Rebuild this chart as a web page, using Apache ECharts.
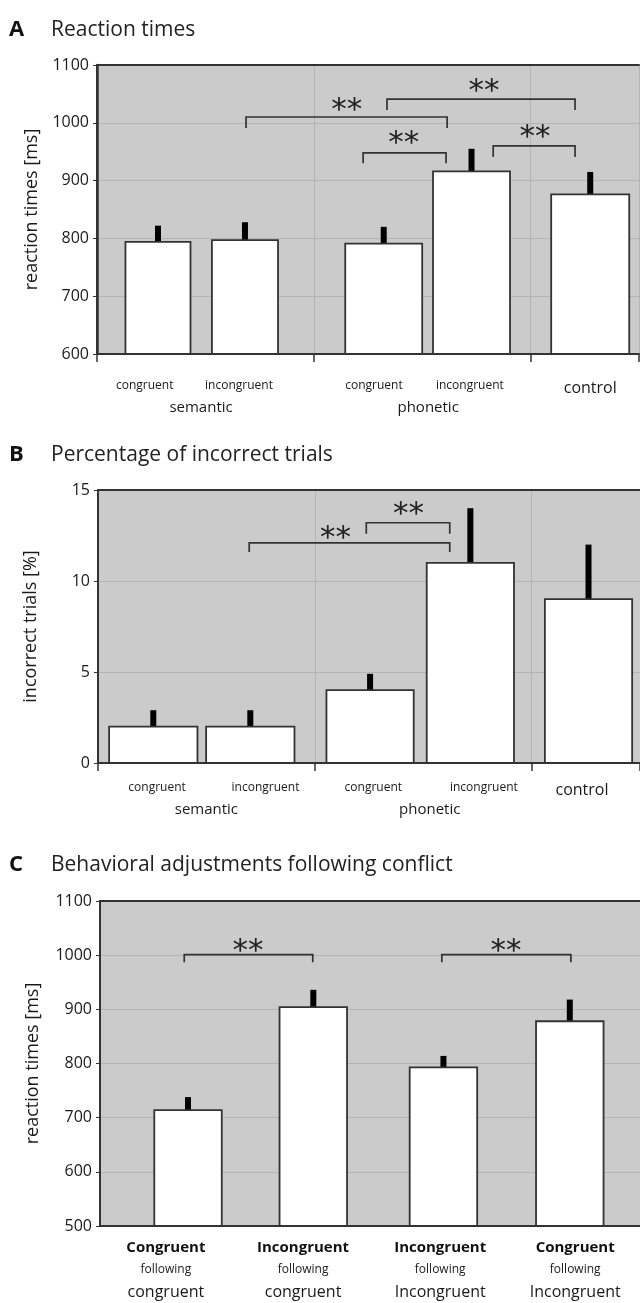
<!DOCTYPE html>
<html><head><meta charset="utf-8">
<script src="https://cdn.jsdelivr.net/npm/echarts@6/dist/echarts.min.js"></script>
<style>html,body{margin:0;padding:0;background:#fff}#c{width:640px;height:1303px}</style>
</head><body><div id="c"></div>
<script>
// ---------- DATA ----------
const condCategories = ['semantic congruent', 'semantic incongruent', 'phonetic congruent', 'phonetic incongruent', 'control'];
const condLabels = ['congruent', 'incongruent', 'congruent', 'incongruent', 'control'];
const groupLabels = ['semantic', 'phonetic'];
const rtMeans = [794, 797, 791, 916, 876];
const rtSem = [28, 31, 29, 39, 39];
const errMeans = [2, 2, 4, 11, 9];
const errSem = [0.9, 0.9, 0.9, 3, 3];
const seqCategories = ['Congruent following congruent', 'Incongruent following congruent', 'Incongruent following Incongruent', 'Congruent following Incongruent'];
const seqMain = ['Congruent', 'Incongruent', 'Incongruent', 'Congruent'];
const seqPrev = ['congruent', 'congruent', 'Incongruent', 'Incongruent'];
const seqMeans = [714, 904, 793, 878];
const seqSem = [24, 32, 21, 40];
const rtTicksA = [600, 700, 800, 900, 1000, 1100];
const errTicks = [0, 5, 10, 15];
const rtTicksC = [500, 600, 700, 800, 900, 1000, 1100];
// significance: [bar i, bar j, bracket level]
const sigA = [[1, 3, 1010], [2, 4, 1041], [2, 3, 948], [3, 4, 960]];
const sigB = [[1, 3, 12.1], [2, 3, 13.2]];
const sigC = [[0, 1, 1001], [2, 3, 1001]];

// ---------- LAYOUT (x in axis units 0..100) ----------
const L = {
  A: { pos: [11.25, 27.3, 52.9, 69.1, 91.0], w: [12.0, 12.2, 14.2, 14.2, 14.4], lab: [8.8, 26.2, 51.1, 68.8, 91.0], grp: [19.2, 61.1],
       br: [[27.5, 64.6, 19, 46.1, 26], [53.5, 88.2, 19, 71.4, 28], [49.1, 64.4, 18, 56.6, 31], [73.1, 88.2, 19, 80.8, 30]] },
  B: { pos: [10.2, 28.1, 50.2, 68.7, 90.5], w: [16.3, 16.3, 16.1, 16.1, 16.1], lab: [10.9, 30.9, 50.8, 71.2, 89.3], grp: [20.0, 61.2],
       br: [[27.9, 64.9, 0.5, 43.8, 0.7], [49.5, 64.9, 0.6, 57.3, 0.9]] },
  C: { pos: [16.3, 39.5, 63.6, 87.0], w: [12.5, 12.5, 12.5, 12.5], lab: [12.2, 37.6, 63.0, 88.0],
       br: [[15.6, 39.4, 14, 27.4, 21], [63.3, 87.2, 14, 75.2, 21]] }
};

const FONT = "'Open Sans', 'Noto Sans', sans-serif";
const DARK = '#333';
const TXT = '#1a1a1a';

function barData(means, sem, lay, base) {
  return means.map((m, i) => [lay.pos[i], m, sem[i], lay.w[i], base]);
}
function bracketData(sig, lay) {
  return sig.map((s, k) => { const b = lay.br[k]; return [b[0], b[1], s[2], b[2], b[3], b[4]]; });
}
function renderBar(params, api) {
  const x = api.value(0), v = api.value(1), e = api.value(2), w = api.value(3), base = api.value(4);
  const p0 = api.coord([x - w / 2, v]);
  const p1 = api.coord([x + w / 2, base]);
  const pv = api.coord([x, v]);
  const pe = api.coord([x, v + e]);
  return { type: 'group', children: [
    { type: 'line', shape: { x1: pv[0], y1: pv[1], x2: pe[0], y2: pe[1] }, style: { stroke: '#000', lineWidth: 6 } },
    { type: 'rect', shape: { x: p0[0], y: p0[1], width: p1[0] - p0[0], height: p1[1] - p0[1] }, style: { fill: '#fff', stroke: DARK, lineWidth: 1.8 } }
  ] };
}
function renderBracket(params, api) {
  const x1 = api.value(0), x2 = api.value(1), top = api.value(2), leg = api.value(3), sx = api.value(4), sy = api.value(5);
  const a = api.coord([x1, top - leg]), b = api.coord([x1, top]), c = api.coord([x2, top]), d = api.coord([x2, top - leg]);
  const s = api.coord([sx, top + sy]);
  return { type: 'group', children: [
    { type: 'polyline', shape: { points: [a, b, c, d] }, style: { stroke: DARK, lineWidth: 1.7, fill: null } },
    { type: 'text', x: s[0], y: s[1] + 9, style: { text: '**', font: "31px 'DejaVu Sans'", align: 'center', verticalAlign: 'middle', fill: '#222' } }
  ] };
}

function mainX(grid, ticks, split) {
  return { gridIndex: grid, type: 'value', min: 0, max: 100, interval: 40, position: 'bottom',
    axisLine: { show: true, onZero: false, lineStyle: { color: DARK, width: 2 } },
    axisTick: { show: ticks, length: 8, lineStyle: { color: DARK, width: 1.5 } },
    axisLabel: { show: false },
    splitLine: { show: split, lineStyle: { color: '#b4b4b4', width: 1 } } };
}
function labelX(grid, values, fmt, margin, rich) {
  return { gridIndex: grid, type: 'value', min: 0, max: 100, position: 'bottom',
    axisLine: { show: false, onZero: false }, axisTick: { show: false }, splitLine: { show: false },
    axisLabel: { show: true, customValues: values, margin: margin, formatter: fmt, rich: rich, color: TXT, fontFamily: FONT } };
}
function topX(grid) {
  return { gridIndex: grid, type: 'value', min: 0, max: 100, position: 'top',
    axisLine: { show: true, onZero: false, lineStyle: { color: DARK, width: 2 } },
    axisTick: { show: false }, axisLabel: { show: false }, splitLine: { show: false } };
}
function mainY(grid, ticks, name, gap) {
  return { gridIndex: grid, type: 'value', min: ticks[0], max: ticks[ticks.length - 1], interval: ticks[1] - ticks[0],
    name: name, nameLocation: 'middle', nameGap: gap, nameTextStyle: { fontSize: 18, fontFamily: FONT, color: TXT },
    axisLine: { show: true, lineStyle: { color: DARK, width: 2 } },
    axisTick: { show: true, length: 4, lineStyle: { color: DARK } },
    axisLabel: { fontSize: 16, fontFamily: FONT, color: TXT, margin: 8, formatter: v => String(v) },
    splitLine: { show: true, lineStyle: { color: '#b4b4b4', width: 1 } } };
}

const richAB = { s: { fontSize: 12, fontFamily: FONT, color: TXT }, c: { fontSize: 16, fontFamily: FONT, color: TXT }, g: { fontSize: 15, fontFamily: FONT, color: TXT } };
function smallFmt(lay) {
  return v => { const i = lay.lab.findIndex(p => Math.abs(p - v) < 1e-6); if (i < 0) return ''; return i === 4 ? '{c|' + condLabels[i] + '}' : '{s|' + condLabels[i] + '}'; };
}
function grpFmt(lay) {
  return v => { const i = lay.grp.findIndex(p => Math.abs(p - v) < 1e-6); return i < 0 ? '' : '{g|' + groupLabels[i] + '}'; };
}
const richC = { b: { fontSize: 15, fontWeight: 'bold', fontFamily: FONT, color: '#111', lineHeight: 23 }, f: { fontSize: 12, fontFamily: FONT, color: TXT, lineHeight: 22 }, m: { fontSize: 16, fontFamily: FONT, color: TXT, lineHeight: 22 } };
function cFmt(v) { const i = L.C.lab.findIndex(p => Math.abs(p - v) < 1e-6); return i < 0 ? '' : '{b|' + seqMain[i] + '}\n{f|following}\n{m|' + seqPrev[i] + '}'; }

function title(letter, text, y) {
  return { type: 'group', children: [
    { type: 'text', x: 9, y: y, style: { text: letter, font: "bold 22px " + FONT, fill: '#111', verticalAlign: 'middle' } },
    { type: 'text', x: 51, y: y, style: { text: text, font: "21px " + FONT, fill: '#222', verticalAlign: 'middle' } }
  ] };
}

const chart = echarts.init(document.getElementById('c'), null, { renderer: 'canvas' });
chart.setOption({
  animation: false,
  backgroundColor: '#fff',
  graphic: [title('A', 'Reaction times', 30), title('B', 'Percentage of incorrect trials', 455), title('C', 'Behavioral adjustments following conflict', 865)],
  grid: [
    { left: 97, top: 65, width: 542, height: 289, show: true, backgroundColor: '#cbcbcb', borderWidth: 0 },
    { left: 98, top: 490, width: 543, height: 273, show: true, backgroundColor: '#cbcbcb', borderWidth: 0 },
    { left: 100, top: 901, width: 541, height: 325, show: true, backgroundColor: '#cbcbcb', borderWidth: 0 }
  ],
  xAxis: [
    mainX(0, true, true), labelX(0, L.A.lab, smallFmt(L.A), 26, richAB), labelX(0, L.A.grp, grpFmt(L.A), 46, richAB), topX(0),
    mainX(1, true, true), labelX(1, L.B.lab, smallFmt(L.B), 19, richAB), labelX(1, L.B.grp, grpFmt(L.B), 39, richAB), topX(1),
    mainX(2, false, false), labelX(2, L.C.lab, cFmt, 10, richC), topX(2)
  ],
  yAxis: [
    mainY(0, rtTicksA, 'reaction times [ms]', 56),
    { gridIndex: 0, type: 'value', min: 600, max: 1100, position: 'right', axisLine: { show: true, lineStyle: { color: DARK, width: 2.5 } }, axisTick: { show: false }, axisLabel: { show: false }, splitLine: { show: false } },
    mainY(1, errTicks, 'incorrect trials [%]', 58),
    mainY(2, rtTicksC, 'reaction times [ms]', 58)
  ],
  series: [
    { type: 'custom', name: 'Reaction times', xAxisIndex: 0, yAxisIndex: 0, renderItem: renderBar, data: barData(rtMeans, rtSem, L.A, 600), z: 3 },
    { type: 'custom', name: 'sig A', xAxisIndex: 0, yAxisIndex: 0, renderItem: renderBracket, data: bracketData(sigA, L.A), z: 4 },
    { type: 'custom', name: 'Incorrect trials', xAxisIndex: 4, yAxisIndex: 2, renderItem: renderBar, data: barData(errMeans, errSem, L.B, 0), z: 3 },
    { type: 'custom', name: 'sig B', xAxisIndex: 4, yAxisIndex: 2, renderItem: renderBracket, data: bracketData(sigB, L.B), z: 4 },
    { type: 'custom', name: 'Sequence effects', xAxisIndex: 8, yAxisIndex: 3, renderItem: renderBar, data: barData(seqMeans, seqSem, L.C, 500), z: 3 },
    { type: 'custom', name: 'sig C', xAxisIndex: 8, yAxisIndex: 3, renderItem: renderBracket, data: bracketData(sigC, L.C), z: 4 }
  ]
});
</script>
</body></html>
